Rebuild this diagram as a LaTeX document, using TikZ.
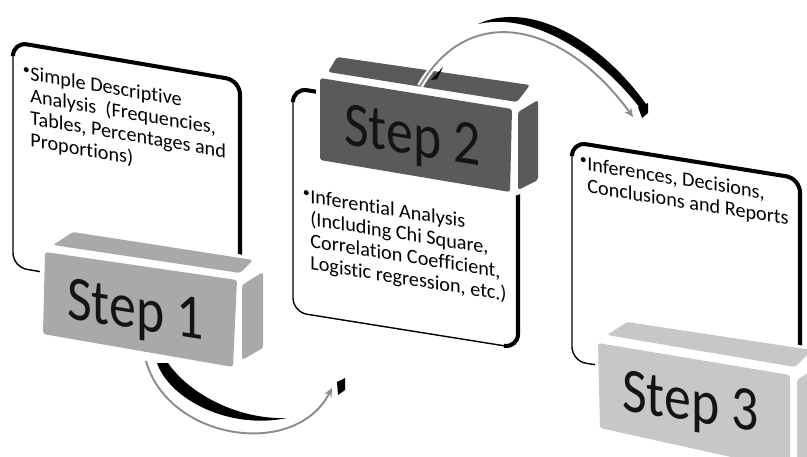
\documentclass[tikz,border=0pt]{standalone}
\usepackage{fontspec}
\setmainfont{Carlito}[Ligatures=NoCommon]
\usetikzlibrary{arrows.meta}

\definecolor{stepone}{HTML}{ABA9A7}
\definecolor{steptwo}{HTML}{5A5A5A}
\definecolor{stepthree}{HTML}{C9C7C6}
\definecolor{arcgray}{HTML}{8C8C8C}

\tikzset{
  cardframe/.style={fill=white, draw=black, line width=0.8pt, rounded corners=8pt},
  cardedge/.style={draw=black, line width=2.3pt, rounded corners=8pt},
  cardtext/.style={anchor=north west, inner sep=0pt, align=left, text=black,
    font=\fontsize{11.5}{12.6}\selectfont, transform shape},
  blockface/.style={rounded corners=1.5pt},
  steptext/.style={anchor=base west, inner sep=0pt, text=black!92,
    font=\fontsize{36}{36}\selectfont, yslant=-0.16, xscale=0.85},
  flowarc/.style={draw=arcgray, line width=1.1pt, -{Stealth[length=5pt,width=4.5pt]},
    preaction={draw=white, line width=3.5pt}},
}

% raised bullet hanging in the margin
\newcommand{\bul}{\llap{\raisebox{0.28em}{\footnotesize\textbullet}\hspace{0.3pt}}}

\begin{document}
\begin{tikzpicture}[x=0.02cm, y=-0.02cm]

  \clip (0,0) rectangle (807,456);

  % card of step 1
  \begin{scope}[shift={(13,42)}, yslant=-0.17]
    \draw[cardframe] (0,0) rectangle (227,225);
    \draw[cardedge] (0,12) |- (227,0) |- (213,225);
    \node[cardtext] (desc) at (17,21)
      {\bul Simple Descriptive\\Analysis\ \ (Frequencies,\\Tables, Percentages and\\Proportions)};
  \end{scope}

  % block of step 1
  \fill[white] (40,249) -- (71,227) -- (256,257) -- (266,270) -- (266,350)
    -- (242,364) -- (233,371) -- (40,338) -- cycle;
  \fill[stepone, blockface] (53,245) -- (73,232) -- (253,260) -- (240,273) -- cycle;
  \fill[stepone, blockface] (45,252) -- (237,280) -- (233,367) -- (43,334) -- cycle;
  \fill[stepone, blockface] (242,285) -- (263,272) -- (263,348) -- (242,360) -- cycle;
  \node[steptext] (step1) at (67,318) {Step 1};

  % card of step 2
  \begin{scope}[shift={(293,88)}, yslant=-0.16]
    \draw[cardframe] (0,0) rectangle (225,224);
    \draw[cardedge] (0,12) |- (225,0) |- (211,224);
    \node[cardtext] (infer) at (17,98)
      {\bul Inferential Analysis\\(Including Chi Square,\\Correlation Coefficient,\\Logistic regression, etc.)};
  \end{scope}

  % block of step 2
  \fill[white] (316,76) -- (336,54) -- (532,84) -- (541,98) -- (541,182)
    -- (518,195) -- (508,196) -- (317,162) -- cycle;
  \fill[steptwo, blockface] (328,72) -- (337,57) -- (530,85) -- (517,102) -- cycle;
  \fill[steptwo, blockface] (320,78) -- (512,109) -- (510,192) -- (320,160) -- cycle;
  \fill[steptwo, blockface] (518,112) -- (538,100) -- (538,180) -- (518,190) -- cycle;
  \node[steptext] (step2) at (344,144) {Step 2};

  % card of step 3
  \begin{scope}[shift={(572,142)}, yslant=-0.16]
    \draw[cardframe] (0,0) rectangle (228,219);
    \draw[cardedge] (0,12) |- (228,0) |- (214,219);
    \node[cardtext] (report) at (15,12)
      {\bul Inferences, Decisions,\\Conclusions and Reports};
  \end{scope}

  % block of step 3
  \fill[white] (595,340) -- (625,319) -- (812,347) -- (812,470) -- (595,470) -- cycle;
  \fill[stepthree, blockface] (607,335) -- (627,322) -- (812,350) -- (795,367) -- cycle;
  \fill[stepthree, blockface] (598,343) -- (790,375) -- (790,470) -- (600,428) -- cycle;
  \fill[stepthree, blockface] (797,380) -- (815,368) -- (815,470) -- (797,480) -- cycle;
  \node[steptext] (step3) at (622,410) {Step 3};

  % arc from step 1 to step 2
  \coordinate (a1from) at (146,361);
  \coordinate (a1to) at (332,388);
  \fill (157,363) .. controls (170,400) and (230,430) .. (287,418)
    .. controls (240,420) and (190,395) .. (168,363) -- cycle;
  \draw[flowarc] (a1from) .. controls (168,440) and (295,460) .. (a1to);
  \fill (337,382) -- (345,378) -- (345,390) -- (338,395) -- cycle;

  % arc from step 2 to step 3
  \coordinate (a2from) at (420,86);
  \coordinate (a2to) at (633,117);
  \fill (478,24) .. controls (530,0) and (600,40) .. (646,104) -- (640,108)
    .. controls (595,50) and (530,12) .. (478,24) -- cycle;
  \fill (431,80) -- (443,67) -- (437,79) -- cycle;
  \draw[flowarc] (a2from) .. controls (472,-3) and (568,27) .. (a2to);
  \fill (638,107) -- (648,103) -- (648,113) -- (642,118) -- cycle;

\end{tikzpicture}
\end{document}
